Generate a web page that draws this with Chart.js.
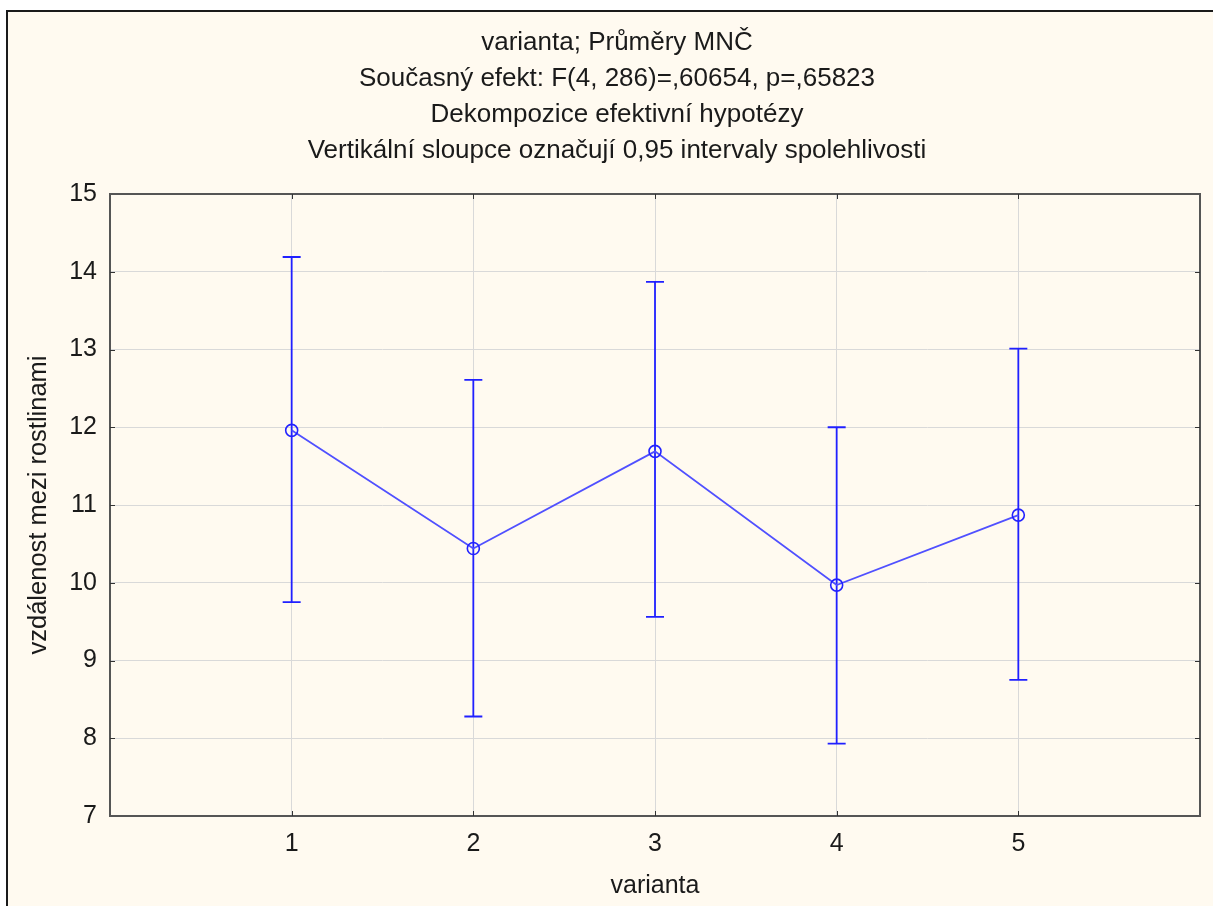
<!DOCTYPE html>
<html>
<head>
<meta charset="utf-8">
<script src="https://cdn.jsdelivr.net/npm/chart.js@4"></script>
<style>
  body { margin: 0; background: #fff; overflow: hidden; }
  #frame { position: absolute; left: 6px; top: 10px; width: 1230px; height: 920px; border: 2px solid #1a1a1a; background: #fffaf0; }
  #wrap { position: absolute; left: 0; top: 0; width: 1213px; height: 906px; }
</style>
</head>
<body>
<div id="frame"></div>
<div id="wrap"><canvas id="chart" width="1213" height="906"></canvas></div>
<script>
// data
const categories = [1, 2, 3, 4, 5];
const means = [11.96, 10.44, 11.69, 9.97, 10.87];
const upper = [14.19, 12.61, 13.87, 12.00, 13.01];
const lower = [9.75, 8.28, 9.56, 7.93, 8.75];
const yTicks = [7, 8, 9, 10, 11, 12, 13, 14, 15];

const titleLines = [
    'varianta; Průměry MNČ',
    'Současný efekt: F(4, 286)=,60654, p=,65823',
    'Dekompozice efektivní hypotézy',
    'Vertikální sloupce označují 0,95 intervaly spolehlivosti'
];

const FONT = "'Liberation Sans', Arial, sans-serif";
const TEXT = '#1a1a1a';

// titulek, chybové úsečky, rámeček a vnitřní značky
const extras = {
    id: 'extras',
    beforeDraw(chart) {
        const { ctx } = chart;
        ctx.save();
        ctx.fillStyle = TEXT;
        ctx.font = '26px ' + FONT;
        ctx.textAlign = 'center';
        ctx.textBaseline = 'alphabetic';
        titleLines.forEach((t, i) => ctx.fillText(t, 617, 50 + i * 36));
        ctx.restore();
    },
    beforeDatasetsDraw(chart) {
        const { ctx, scales: { x, y } } = chart;
        ctx.save();
        ctx.strokeStyle = '#2020ff';
        ctx.lineWidth = 1.8;
        categories.forEach((c, i) => {
            const px = x.getPixelForValue(c);
            const top = y.getPixelForValue(upper[i]);
            const bot = y.getPixelForValue(lower[i]);
            ctx.beginPath();
            ctx.moveTo(px, top); ctx.lineTo(px, bot);
            ctx.moveTo(px - 9, top); ctx.lineTo(px + 9, top);
            ctx.moveTo(px - 9, bot); ctx.lineTo(px + 9, bot);
            ctx.stroke();
        });
        ctx.restore();
    },
    afterDraw(chart) {
        const { ctx, chartArea: a, scales: { x, y } } = chart;
        ctx.save();
        ctx.strokeStyle = '#555';
        ctx.lineWidth = 2;
        ctx.strokeRect(a.left, a.top, a.right - a.left, a.bottom - a.top);
        ctx.lineWidth = 1;
        ctx.strokeStyle = '#333';
        ctx.beginPath();
        categories.forEach(c => {
            const px = Math.round(x.getPixelForValue(c)) + 0.5;
            ctx.moveTo(px, a.top); ctx.lineTo(px, a.top + 5);
            ctx.moveTo(px, a.bottom); ctx.lineTo(px, a.bottom - 5);
        });
        yTicks.slice(1, -1).forEach(v => {
            const py = Math.round(y.getPixelForValue(v)) + 0.5;
            ctx.moveTo(a.left, py); ctx.lineTo(a.left + 5, py);
            ctx.moveTo(a.right, py); ctx.lineTo(a.right - 5, py);
        });
        ctx.stroke();
        ctx.restore();
    }
};

new Chart(document.getElementById('chart'), {
    type: 'line',
    data: {
        datasets: [{
            data: categories.map((c, i) => ({ x: c, y: means[i] })),
            borderColor: '#5050ff',
            borderWidth: 1.8,
            pointStyle: 'circle',
            pointRadius: 6,
            pointBorderColor: '#2222ff',
            pointBorderWidth: 1.6,
            pointBackgroundColor: 'rgba(0,0,0,0)',
            tension: 0
        }]
    },
    options: {
        responsive: false,
        animation: false,
        layout: { padding: { left: 0, right: 12, top: 194, bottom: 0 } },
        plugins: {
            legend: { display: false },
            tooltip: { enabled: false },
            title: { display: false }
        },
        scales: {
            x: {
                type: 'linear',
                min: 0, max: 6,
                afterFit(s) { s.height = 90; },
                grid: { color: '#d9d9d9', drawTicks: false },
                border: { display: false },
                ticks: {
                    stepSize: 1,
                    padding: 13,
                    color: TEXT,
                    font: { family: FONT, size: 25 },
                    callback: v => (categories.includes(v) ? v : '')
                },
                title: {
                    display: true,
                    text: 'varianta',
                    color: TEXT,
                    font: { family: FONT, size: 25 },
                    padding: { top: 0, bottom: 5 }
                }
            },
            y: {
                min: yTicks[0], max: yTicks[yTicks.length - 1],
                afterFit(s) { s.width = 110; },
                grid: { color: '#d9d9d9', drawTicks: false },
                border: { display: false },
                ticks: {
                    stepSize: 1,
                    padding: 13,
                    color: TEXT,
                    font: { family: FONT, size: 25 }
                },
                title: {
                    display: true,
                    text: 'vzdálenost mezi rostlinami',
                    color: TEXT,
                    font: { family: FONT, size: 25.5 },
                    padding: { top: 24, bottom: 0 }
                }
            }
        }
    },
    plugins: [extras]
});
</script>
</body>
</html>
